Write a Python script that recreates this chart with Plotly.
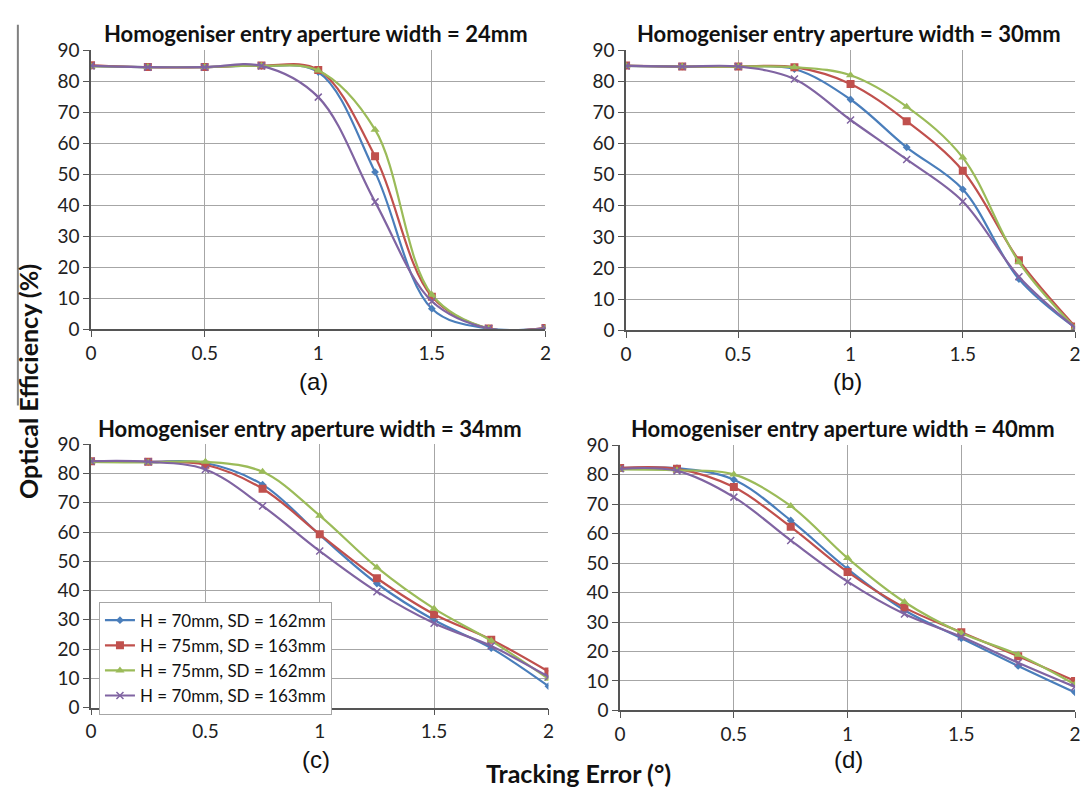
import plotly.graph_objects as go

W, H = 1085, 804

tracking_error = [0, 0.25, 0.5, 0.75, 1, 1.25, 1.5, 1.75, 2]
series_names = ["H = 70mm, SD = 162mm", "H = 75mm, SD = 163mm",
                "H = 75mm, SD = 162mm", "H = 70mm, SD = 163mm"]
panel_titles = ["Homogeniser entry aperture width = 24mm",
                "Homogeniser entry aperture width = 30mm",
                "Homogeniser entry aperture width = 34mm",
                "Homogeniser entry aperture width = 40mm"]
panel_labels = ["(a)", "(b)", "(c)", "(d)"]
x_ticks = [0, 0.5, 1, 1.5, 2]
x_tick_text = ["0", "0.5", "1", "1.5", "2"]
y_ticks = [0, 10, 20, 30, 40, 50, 60, 70, 80, 90]

# Panel (a) 24mm
a_h70_sd162 = [85.0, 84.6, 84.6, 85.0, 83.0, 50.7, 6.6, 0.2, 0.3]
a_h75_sd163 = [85.2, 84.6, 84.6, 85.1, 83.7, 55.8, 10.5, 0.2, 0.4]
a_h75_sd162 = [84.8, 84.6, 84.6, 85.0, 83.5, 64.4, 11.1, 0.2, 0.3]
a_h70_sd163 = [85.0, 84.6, 84.6, 85.0, 74.9, 41.1, 9.0, 0.2, 0.3]
# Panel (b) 30mm
b_h70_sd162 = [85.0, 84.8, 84.8, 84.0, 74.2, 58.8, 45.3, 16.4, 0.8]
b_h75_sd163 = [85.1, 84.8, 84.8, 84.6, 79.2, 67.2, 51.3, 22.5, 1.2]
b_h75_sd162 = [85.0, 84.8, 84.8, 84.6, 82.0, 71.9, 55.5, 21.9, 0.8]
b_h70_sd163 = [85.0, 84.8, 84.8, 80.8, 67.6, 54.9, 41.4, 17.2, 0.8]
# Panel (c) 34mm
c_h70_sd162 = [84.2, 84.0, 83.6, 76.2, 59.0, 42.4, 29.9, 20.3, 7.3]
c_h75_sd163 = [84.2, 84.0, 83.0, 74.8, 59.2, 44.2, 31.9, 23.2, 12.3]
c_h75_sd162 = [84.0, 83.8, 84.0, 80.6, 65.6, 47.9, 33.8, 22.8, 9.8]
c_h70_sd163 = [84.2, 84.0, 81.4, 68.9, 53.5, 39.6, 28.8, 21.0, 10.5]
# Panel (d) 40mm
d_h70_sd162 = [82.2, 82.2, 78.3, 64.5, 48.0, 34.0, 24.5, 15.1, 6.1]
d_h75_sd163 = [82.3, 82.0, 75.8, 62.3, 47.0, 34.9, 26.5, 18.4, 10.0]
d_h75_sd162 = [81.8, 81.5, 80.1, 69.4, 51.7, 36.8, 26.3, 18.9, 8.8]
d_h70_sd163 = [82.0, 81.3, 72.4, 57.7, 43.7, 32.7, 25.0, 16.2, 8.0]

panels = [
    [a_h70_sd162, a_h75_sd163, a_h75_sd162, a_h70_sd163],
    [b_h70_sd162, b_h75_sd163, b_h75_sd162, b_h70_sd163],
    [c_h70_sd162, c_h75_sd163, c_h75_sd162, c_h70_sd163],
    [d_h70_sd162, d_h75_sd163, d_h75_sd162, d_h70_sd163],
]

colors = ["#4A7EBB", "#C0504D", "#9BBB59", "#8064A2"]
symbols = ["diamond", "square", "triangle-up", "x-thin"]
msizes = [6, 8, 8, 7]

# plot areas in pixels: (x0, x2, ytop(90), ybottom(0))
areas = [
    (86, 545.5, 39.5, 326.5),
    (627, 1081, 39.5, 327.5),
    (86, 548.5, 445, 716),
    (621, 1081, 446, 719),
]

FONT = "Lato"
fig = go.Figure()

for p, (vals, area) in enumerate(zip(panels, areas)):
    ax = "" if p == 0 else str(p + 1)
    for s, yv in enumerate(vals):
        mk = dict(symbol=symbols[s], size=msizes[s], color=colors[s])
        if symbols[s] == "x-thin":
            mk["line"] = dict(color=colors[s], width=1.5)
        fig.add_trace(go.Scatter(
            x=tracking_error, y=yv, mode="lines+markers",
            name=series_names[s], legendgroup=series_names[s],
            showlegend=(p == 2),
            line=dict(color=colors[s], width=2.2, shape="spline", smoothing=1.0),
            marker=mk,
            xaxis="x" + ax, yaxis="y" + ax,
        ))
    x0, x2, yt, yb = area
    common = dict(showgrid=True, gridcolor="#A6A6A6", gridwidth=1,
                  showline=True, linecolor="#555555", linewidth=1.5,
                  ticks="outside", ticklen=6, tickcolor="#555555",
                  tickfont=dict(family=FONT, size=19, color="#222222"),
                  zeroline=False, fixedrange=True)
    fig.layout["xaxis" + ax] = dict(
        domain=[x0 / W, x2 / W], range=[0, 2], tickvals=x_ticks,
        ticktext=x_tick_text, anchor="y" + ax, **common)
    fig.layout["yaxis" + ax] = dict(
        domain=[1 - yb / H, 1 - yt / H], range=[0, 90], tickvals=y_ticks,
        anchor="x" + ax, **common)

title_pos = [(313, 22), (852, 22), (307, 429), (846, 429)]
label_pos = [(311, 380), (851, 380), (313, 770), (852, 770)]
annotations = []
for t, (px, py) in zip(panel_titles, title_pos):
    annotations.append(dict(text="<b>" + t + "</b>", x=px / W, y=1 - py / H,
                            xref="paper", yref="paper", showarrow=False,
                            xanchor="center", yanchor="middle",
                            font=dict(family=FONT, size=22, color="#111111")))
for t, (px, py) in zip(panel_labels, label_pos):
    annotations.append(dict(text=t, x=px / W, y=1 - py / H,
                            xref="paper", yref="paper", showarrow=False,
                            xanchor="center", yanchor="middle",
                            font=dict(family="Liberation Sans", size=24, color="#111111")))
annotations.append(dict(text="<b>Tracking Error (°)</b>", x=579 / W, y=1 - 783 / H,
                        xref="paper", yref="paper", showarrow=False,
                        xanchor="center", yanchor="middle",
                        font=dict(family=FONT, size=25, color="#111111")))
annotations.append(dict(text="<b>Optical Efficiency (%)</b>", x=22 / W, y=1 - 380 / H,
                        xref="paper", yref="paper", showarrow=False, textangle=-90,
                        xanchor="center", yanchor="middle",
                        font=dict(family=FONT, size=25, color="#111111")))

fig.update_layout(
    width=W, height=H,
    margin=dict(l=0, r=0, t=0, b=0),
    paper_bgcolor="white", plot_bgcolor="white",
    annotations=annotations,
    shapes=[dict(type="line", xref="paper", yref="paper",
                 x0=12 / W, x1=12 / W, y0=1 - 13 / H, y1=1 - 405 / H,
                 line=dict(color="#808080", width=2))],
    legend=dict(x=94 / W, y=1 - 607 / H, xanchor="left", yanchor="top",
                bgcolor="white", bordercolor="#A6A6A6", borderwidth=1,
                font=dict(family=FONT, size=17, color="#111111"),
                tracegroupgap=0, itemwidth=30),
    showlegend=True,
)

fig.write_html("out.html", config={"displayModeBar": False},
               post_script="document.body.style.margin='0';document.body.style.overflow='hidden';")
